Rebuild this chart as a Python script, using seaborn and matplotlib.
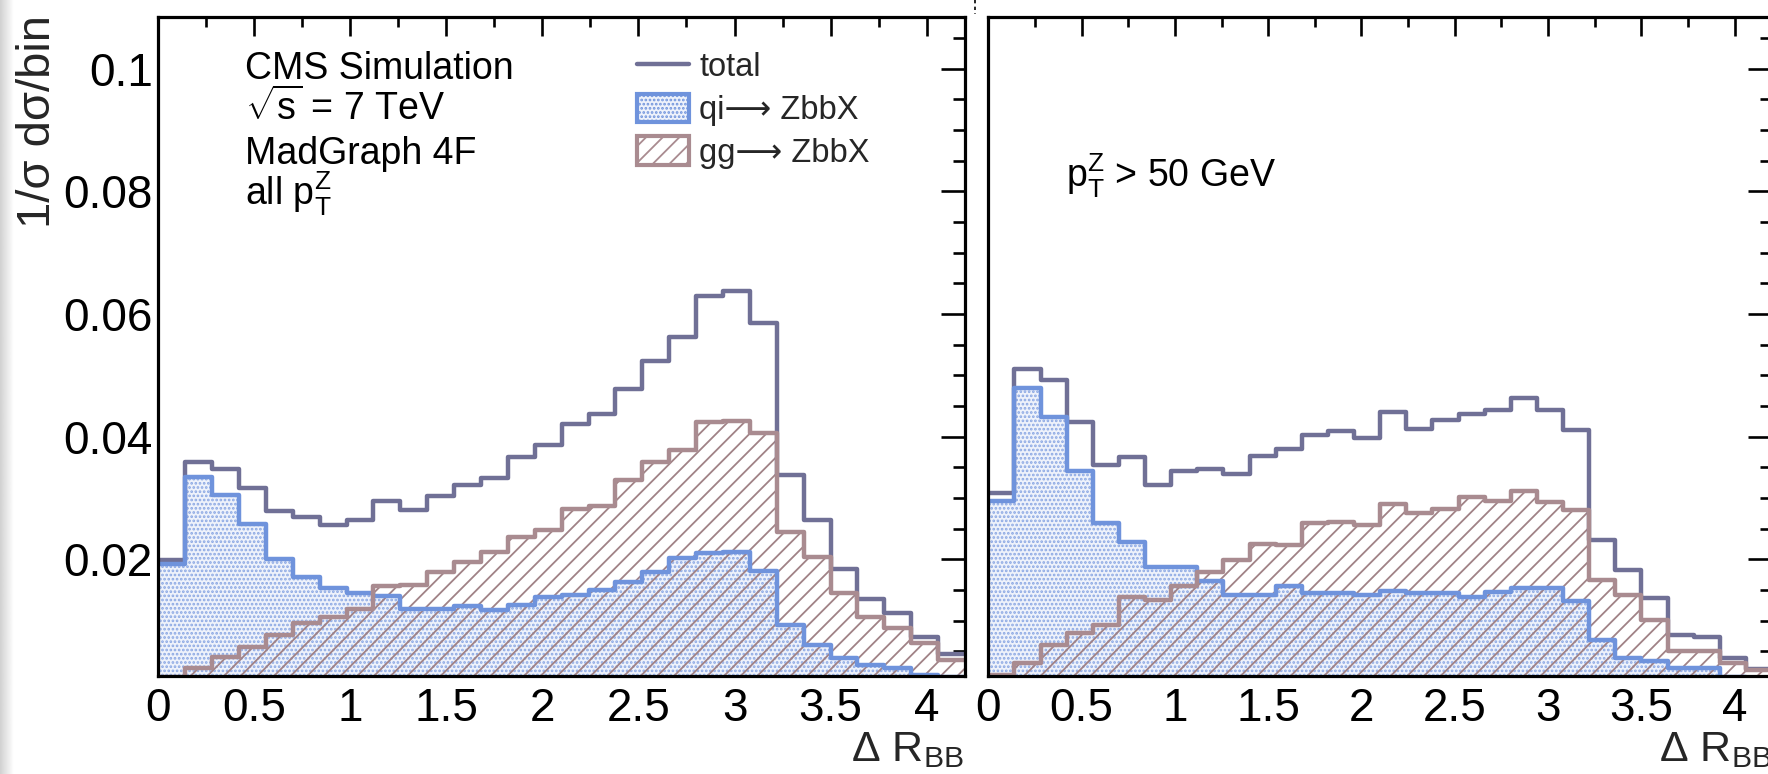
import numpy as np
import pandas as pd
import matplotlib
matplotlib.use("Agg")
import matplotlib.pyplot as plt
import seaborn as sns
from matplotlib.lines import Line2D
from matplotlib.patches import Patch
from matplotlib.ticker import MultipleLocator, FixedLocator, FuncFormatter

# ---------------- data ----------------
BIN_WIDTH = 0.14
N_BINS = 30

# left panel: all pT^Z
total_all = [0.0199, 0.0359, 0.0348, 0.0316, 0.0279, 0.0269, 0.0257, 0.0265, 0.0295, 0.0280,
             0.0303, 0.0322, 0.0333, 0.0367, 0.0386, 0.0421, 0.0437, 0.0478, 0.0524, 0.0562,
             0.0630, 0.0638, 0.0585, 0.0337, 0.0264, 0.0185, 0.0135, 0.0112, 0.0074, 0.0046]
qi_all = [0.0192, 0.0335, 0.0305, 0.0258, 0.0200, 0.0172, 0.0153, 0.0145, 0.0140, 0.0120,
          0.0120, 0.0124, 0.0118, 0.0126, 0.0139, 0.0142, 0.0150, 0.0164, 0.0180, 0.0202,
          0.0210, 0.0212, 0.0181, 0.0093, 0.0061, 0.0039, 0.0028, 0.0023, 0.0012, 0.0008]
gg_all = [0.0008, 0.0023, 0.0041, 0.0058, 0.0077, 0.0096, 0.0106, 0.0120, 0.0156, 0.0159,
          0.0180, 0.0196, 0.0212, 0.0237, 0.0248, 0.0283, 0.0287, 0.0329, 0.0359, 0.0378,
          0.0424, 0.0426, 0.0406, 0.0245, 0.0204, 0.0145, 0.0106, 0.0088, 0.0064, 0.0036]

# right panel: pT^Z > 50 GeV
total_hi = [0.0308, 0.0510, 0.0492, 0.0424, 0.0354, 0.0367, 0.0322, 0.0345, 0.0348, 0.0340,
            0.0368, 0.0380, 0.0403, 0.0409, 0.0398, 0.0440, 0.0413, 0.0428, 0.0437, 0.0444,
            0.0464, 0.0444, 0.0411, 0.0232, 0.0183, 0.0137, 0.0077, 0.0074, 0.0039, 0.0022]
qi_hi = [0.0295, 0.0480, 0.0432, 0.0345, 0.0260, 0.0229, 0.0188, 0.0188, 0.0165, 0.0142,
         0.0142, 0.0156, 0.0145, 0.0146, 0.0142, 0.0149, 0.0146, 0.0145, 0.0138, 0.0147,
         0.0153, 0.0153, 0.0132, 0.0069, 0.0039, 0.0034, 0.0023, 0.0023, 0.0008, 0.0005]
gg_hi = [0.0012, 0.0031, 0.0061, 0.0080, 0.0093, 0.0138, 0.0134, 0.0156, 0.0180, 0.0199,
         0.0225, 0.0223, 0.0260, 0.0261, 0.0257, 0.0291, 0.0275, 0.0283, 0.0302, 0.0295,
         0.0312, 0.0294, 0.0280, 0.0166, 0.0142, 0.0102, 0.0051, 0.0050, 0.0032, 0.0019]

series_labels = ["total", "qi\u27f6 ZbbX", "gg\u27f6 ZbbX"]
x_ticks = [0, 0.5, 1, 1.5, 2, 2.5, 3, 3.5, 4]
y_ticks = [0.02, 0.04, 0.06, 0.08, 0.1]

# ---------------- style ----------------
sns.set_style("white")
plt.rcParams["font.family"] = ["Liberation Sans", "DejaVu Sans"]
plt.rcParams["mathtext.fontset"] = "custom"
plt.rcParams["mathtext.rm"] = "Liberation Sans"
plt.rcParams["mathtext.it"] = "Liberation Sans:italic"
plt.rcParams["mathtext.sf"] = "Liberation Sans"
plt.rcParams["mathtext.bf"] = "Liberation Sans:bold"
plt.rcParams["hatch.linewidth"] = 1.3

TOTAL_C = "#707096"
QI_LINE = "#6f93dc"
QI_FACE = "#eef2fb"
QI_DOT = "#8aa7e3"
GG_LINE = "#a98b90"
GG_HATCH = "#a08286"

W, H = 1768, 774
fig = plt.figure(figsize=(W / 100, H / 100), dpi=100)
fig.patch.set_facecolor("white")

def fx(px):
    return px / W

def fy(py):
    return 1 - py / H

edges = [round(i * BIN_WIDTH, 4) for i in range(N_BINS + 1)]
centers = [round((i + 0.5) * BIN_WIDTH, 4) for i in range(N_BINS)]

ax_l = fig.add_axes([fx(158.3), fy(676), fx(965) - fx(158.3), (676 - 16.7) / H])
ax_r = fig.add_axes([fx(988.3), fy(676), fx(1772) - fx(988.3), (676 - 16.7) / H])


def draw_panel(ax, total, qi, gg, show_ylabels):
    df = pd.DataFrame({"x": centers, "total": total, "qi": qi, "gg": gg})
    # qi filled (dotted)
    n0 = len(ax.collections)
    sns.histplot(data=df, x="x", weights="qi", bins=edges, element="step",
                 fill=True, ax=ax, color=QI_LINE, alpha=1, linewidth=0, zorder=2)
    poly = ax.collections[n0]
    poly.set_facecolor(QI_FACE)
    poly.set_edgecolor(QI_DOT)
    poly.set_hatch("....")
    poly.set_linewidth(0)
    # gg filled (hatched)
    n0 = len(ax.collections)
    sns.histplot(data=df, x="x", weights="gg", bins=edges, element="step",
                 fill=True, ax=ax, color=GG_LINE, alpha=1, linewidth=0, zorder=3)
    poly = ax.collections[n0]
    poly.set_facecolor("none")
    poly.set_edgecolor(GG_HATCH)
    poly.set_hatch("//")
    poly.set_linewidth(0)
    # outlines
    sns.histplot(data=df, x="x", weights="total", bins=edges, element="step",
                 fill=False, ax=ax, color=TOTAL_C, linewidth=3.2, zorder=4)
    sns.histplot(data=df, x="x", weights="qi", bins=edges, element="step",
                 fill=False, ax=ax, color=QI_LINE, linewidth=3.2, zorder=5)
    sns.histplot(data=df, x="x", weights="gg", bins=edges, element="step",
                 fill=False, ax=ax, color=GG_LINE, linewidth=3.2, zorder=6)

    ax.set_xlim(0, N_BINS * BIN_WIDTH)
    ax.set_ylim(0.001, 0.1085)
    ax.set_xlabel("")
    ax.set_ylabel("")
    ax.xaxis.set_major_locator(FixedLocator(x_ticks))
    ax.xaxis.set_minor_locator(MultipleLocator(0.25))
    ax.yaxis.set_major_locator(FixedLocator(y_ticks))
    ax.yaxis.set_minor_locator(MultipleLocator(0.005))
    fmt = FuncFormatter(lambda v, p: f"{v:g}")
    ax.xaxis.set_major_formatter(fmt)
    ax.yaxis.set_major_formatter(fmt)
    ax.tick_params(axis="both", which="both", direction="in", top=True, right=True,
                   width=1.9, colors="black", labelsize=33)
    ax.tick_params(axis="x", which="major", length=13.5, pad=8)
    ax.tick_params(axis="x", which="minor", length=7)
    ax.tick_params(axis="y", which="major", length=17, pad=4)
    ax.tick_params(axis="y", which="minor", length=8.5)
    if not show_ylabels:
        ax.tick_params(axis="y", labelleft=False)
    for s in ax.spines.values():
        s.set_linewidth(2.3)
        s.set_color("black")
        s.set_zorder(10)
    ax.set_facecolor("white")


draw_panel(ax_l, total_all, qi_all, gg_all, True)
draw_panel(ax_r, total_hi, qi_hi, gg_hi, False)

# legend
handles = [
    Line2D([], [], color=TOTAL_C, linewidth=3.2),
    Patch(facecolor=QI_FACE, edgecolor=QI_LINE, hatch="....", linewidth=3),
    Patch(facecolor="white", edgecolor=GG_LINE, hatch="//", linewidth=3),
]
ax_l.legend(handles, series_labels, loc="upper left",
            bbox_to_anchor=(fx(637), fy(51)), bbox_transform=fig.transFigure,
            frameon=False, borderpad=0, borderaxespad=0, fontsize=23.5,
            handlelength=1.6, handleheight=0.95, handletextpad=0.3,
            labelspacing=0.32)

# annotations
txt_kw = dict(fontsize=27, va="baseline", ha="left", color="black")
fig.text(fx(245), fy(79), "CMS Simulation", **txt_kw)
fig.text(fx(245), fy(120), r"$\sqrt{\mathrm{s}}$ = 7 TeV", **txt_kw)
fig.text(fx(245), fy(164), "MadGraph 4F", **txt_kw)
fig.text(fx(245), fy(205), r"all p$_{\mathrm{T}}^{\mathrm{Z}}$", **txt_kw)
fig.text(fx(1066), fy(187), r"p$_{\mathrm{T}}^{\mathrm{Z}}$ > 50 GeV", **txt_kw)

# axis labels
fig.text(fx(38), fy(15), "1/\u03c3 d\u03c3/bin", fontsize=34, rotation=90,
         ha="center", va="top")
fig.text(fx(964), fy(761), r"$\Delta$ R$_{\mathrm{BB}}$", fontsize=31,
         ha="right", va="baseline")
fig.text(fx(1772), fy(761), r"$\Delta$ R$_{\mathrm{BB}}$", fontsize=31,
         ha="right", va="baseline")

# page-edge shadow and small marker of the source scan
shadow = fig.add_axes([0, 0, fx(14), 1])
shadow.imshow(np.linspace(0.82, 1.0, 50)[None, :], cmap="gray", vmin=0, vmax=1,
              aspect="auto", extent=[0, 1, 0, 1])
shadow.set_axis_off()
fig.add_artist(Line2D([fx(975), fx(975)], [fy(0), fy(14)], color="black",
                      linewidth=1.2, linestyle=(0, (2, 2))))

fig.savefig("out.png", dpi=100, facecolor="white")
